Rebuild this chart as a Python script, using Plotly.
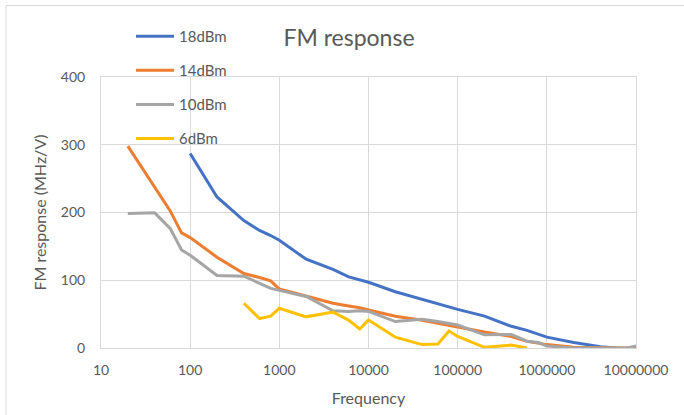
import plotly.graph_objects as go

freq_all = [20, 40, 60, 80, 100, 200, 400, 600, 800, 1000, 2000, 4000, 6000, 8000,
            10000, 20000, 40000, 60000, 80000, 100000, 200000, 400000, 600000, 800000,
            1000000, 2000000, 4000000, 6000000, 8000000, 10000000]

freq_18 = freq_all[4:28]
resp_18 = [287, 223, 188, 173.5, 166, 159, 131, 116, 105, 100, 97, 83, 72, 65, 60, 57,
           47, 32, 26, 20, 16, 8, 2, 0]

freq_14 = freq_all
resp_14 = [298, 238, 202, 170, 163, 134, 110, 104, 99, 87, 76, 66, 62, 59.5, 56, 47, 41,
           37, 34, 31, 23.5, 17, 10, 7, 5, 1, 0, 0, 0, 0]

freq_10 = freq_all
resp_10 = [198.5, 199.5, 176, 144.6, 137, 107, 106, 96, 88, 85, 76, 55, 54, 55, 54, 39,
           42.5, 39, 36, 34, 19.5, 20, 10, 8, 3, 0, 0, 0, 0, 3]

freq_6 = freq_all[6:23]
resp_6 = [66, 43.5, 47, 58.6, 46, 53, 41, 28, 41.5, 16, 5, 6, 25, 17, 1, 4.4, 0]

series_names = ["18dBm", "14dBm", "10dBm", "6dBm"]
series_colors = ["#4472C4", "#ED7D31", "#A5A5A5", "#FFC000"]

x_tick_vals = [10, 100, 1000, 10000, 100000, 1000000, 10000000]
x_tick_text = ["10", "100", "1000", "10000", "100000", "1000000", "10000000"]
y_tick_vals = [0, 100, 200, 300, 400]

FONT = "Lato, 'Open Sans', sans-serif"
TXT = "#595959"

W, H = 684, 415
ML, MR, MT, MB = 101, 48, 77, 67
PW = W - ML - MR
PH = H - MT - MB

fig = go.Figure()
for name, color, xs, ys in zip(series_names, series_colors,
                               [freq_18, freq_14, freq_10, freq_6],
                               [resp_18, resp_14, resp_10, resp_6]):
    fig.add_trace(go.Scatter(x=xs, y=ys, mode="lines", name=name, legendgroup=name,
                             line=dict(color=color, width=3)))

def px_x(px):
    return (px - ML) / PW

def px_y(py):
    return 1 - (py - MT) / PH

fig.update_layout(
    width=W, height=H,
    margin=dict(l=ML, r=MR, t=MT, b=MB, pad=0, autoexpand=False),
    paper_bgcolor="white", plot_bgcolor="white",
    font=dict(family=FONT, color=TXT, size=14),
    title=dict(text="FM response", x=349 / W, xanchor="center",
               y=1 - 46 / H, yanchor="bottom",
               font=dict(family=FONT, size=23, color=TXT)),
    showlegend=True,
    legend=dict(x=px_x(131), y=px_y(20), xanchor="left", yanchor="top",
                bgcolor="rgba(0,0,0,0)", font=dict(family=FONT, size=15, color=TXT),
                tracegroupgap=11.6, itemwidth=38),
    xaxis=dict(type="log", range=[1, 7], tickvals=x_tick_vals, ticktext=x_tick_text,
               automargin=False,
               showgrid=True, gridcolor="#D9D9D9", gridwidth=1,
               showline=True, linecolor="#D9D9D9", mirror=True, zeroline=False,
               ticks="", ticklabelstandoff=9,
               tickfont=dict(family=FONT, size=14, color=TXT),
               title=dict(text="Frequency", standoff=16,
                          font=dict(family=FONT, size=16, color=TXT))),
    yaxis=dict(range=[0, 400], tickvals=y_tick_vals, automargin=False,
               showgrid=True, gridcolor="#D9D9D9", gridwidth=1,
               showline=True, linecolor="#D9D9D9", mirror=True, zeroline=False,
               ticks="", ticklabelstandoff=12,
               tickfont=dict(family=FONT, size=14, color=TXT),
               title=dict(text="FM response (MHz/V)", standoff=10,
                          font=dict(family=FONT, size=16, color=TXT))),
    shapes=[dict(type="rect", xref="paper", yref="paper",
                 x0=px_x(6), x1=px_x(W + 10), y0=px_y(H + 10), y1=px_y(5.5),
                 line=dict(color="#D9D9D9", width=1), fillcolor="rgba(0,0,0,0)",
                 layer="below")],
)

fig.write_html("out.html")
